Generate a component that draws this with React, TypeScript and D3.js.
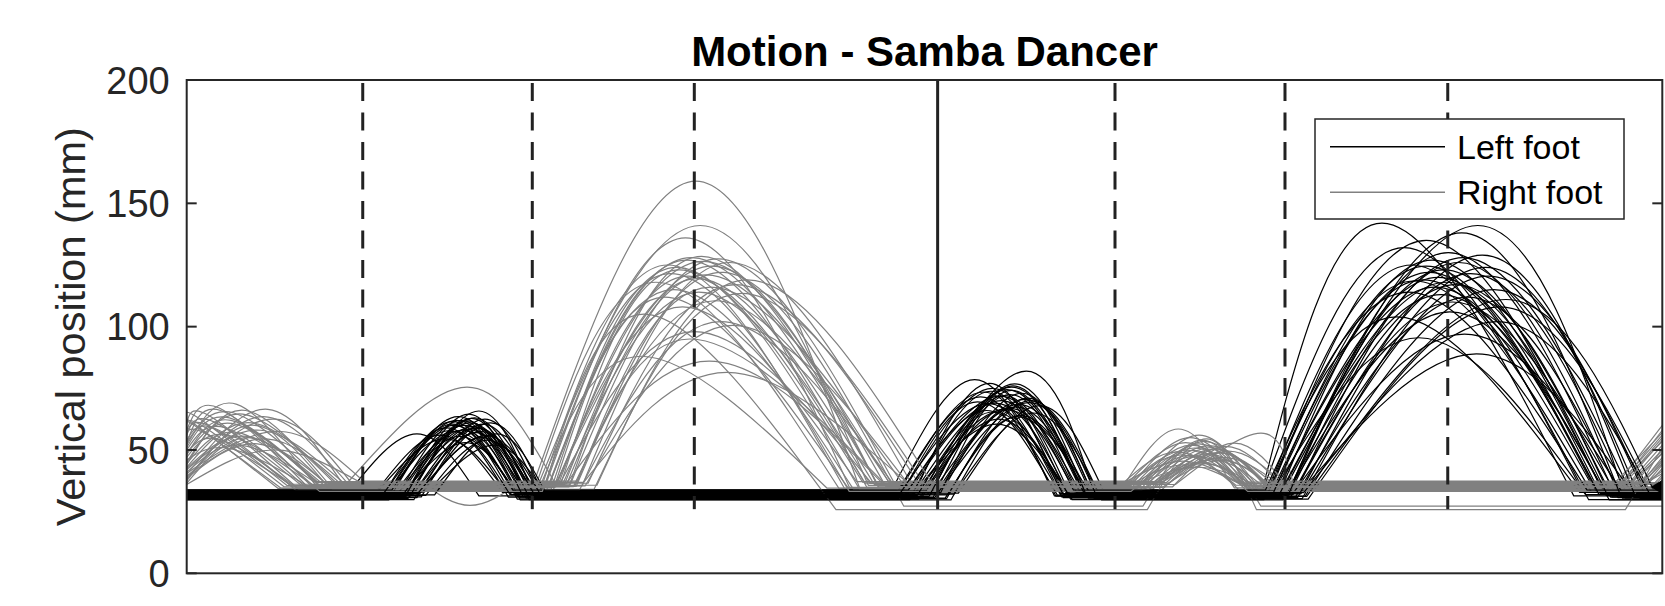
import { useEffect, useRef } from "react";
import * as d3 from "d3";

// [lift-off time, peak time, peak height (mm), landing time], time in % of the recording
type Swing = [number, number, number, number];

const yTicks = [0, 50, 100, 150, 200];

// beat markers (% of recording)
const dashedEvents = [11.93, 23.42, 34.4, 62.91, 74.43, 85.46];
const solidEvents = [50.89];
const markerBottom = 26;

// ---- left foot (black) ----
const leftGround = [31.4, 30.6, 32.6, 31.9, 29.9, 33.5, 32.3, 30.9, 33.0, 30.3, 31.6, 33.8, 32.1, 30.7, 32.8, 31.3, 33.2, 30.1,
  31.9, 32.5, 31.0, 33.6, 30.5, 31.7, 32.9, 32.2, 29.8, 33.4, 31.2, 31.8, 33.7, 30.8, 31.5, 32.7, 32.0, 31.1];

const leftSwing1: Swing[] = [
  [10.8, 15.6, 56.5, 19.8], [14.2, 18.6, 62.0, 22.6], [14.8, 19.0, 58.5, 22.9], [13.6, 18.0, 60.5, 22.0],
  [15.4, 19.6, 57.0, 23.2], [14.0, 18.4, 63.5, 22.8], [15.8, 20.0, 55.0, 23.4], [13.2, 17.6, 59.0, 21.8],
  [14.6, 19.2, 61.0, 23.0], [15.0, 19.8, 65.8, 23.6], [16.2, 20.4, 54.0, 23.8], [13.8, 18.2, 57.5, 22.2],
  [14.4, 18.8, 60.0, 22.7], [15.6, 20.2, 62.5, 24.0], [12.8, 17.2, 56.0, 21.4], [14.9, 19.4, 59.5, 23.1],
  [16.5, 20.8, 52.0, 24.2], [13.4, 18.0, 61.5, 22.4], [15.2, 19.5, 63.0, 23.3], [14.1, 18.7, 58.0, 22.5],
  [15.9, 20.1, 60.5, 23.7], [13.0, 17.5, 54.5, 21.6], [14.7, 19.1, 64.5, 23.0], [15.3, 19.9, 57.5, 23.5],
  [16.0, 20.6, 61.0, 24.1], [14.3, 18.5, 55.5, 22.3], [13.7, 18.3, 62.0, 22.6], [15.5, 19.7, 59.0, 23.4],
  [14.5, 18.9, 53.0, 22.4], [16.8, 21.0, 56.5, 24.4], [13.9, 18.1, 60.0, 22.1], [15.1, 19.3, 62.8, 23.2],
  [14.6, 19.6, 58.8, 23.6], [15.7, 20.3, 55.8, 23.9], [13.3, 17.8, 57.8, 21.9], [14.8, 19.0, 61.8, 22.8],
];

const leftSwing2: Swing[] = [
  [47.6, 53.4, 78.5, 58.8], [49.8, 56.9, 82.0, 61.6], [48.5, 54.6, 75.0, 59.6], [50.2, 55.8, 72.5, 60.4],
  [49.0, 55.2, 70.0, 60.0], [51.0, 56.4, 68.5, 61.0], [48.2, 54.0, 73.5, 59.2], [50.6, 56.0, 76.0, 60.8],
  [49.4, 55.5, 66.5, 60.2], [51.5, 57.0, 71.0, 61.5], [48.8, 54.8, 69.0, 59.8], [50.0, 55.6, 74.5, 60.6],
  [52.0, 57.4, 65.0, 61.8], [49.2, 54.4, 77.0, 59.4], [50.8, 56.2, 67.5, 60.9], [48.0, 53.8, 71.5, 58.9],
  [51.2, 56.6, 73.0, 61.2], [49.6, 55.0, 62.5, 59.9], [50.4, 56.8, 70.5, 61.4], [52.3, 57.8, 68.0, 62.2],
  [48.6, 54.2, 66.0, 59.3], [49.9, 55.9, 75.5, 60.7], [51.4, 56.5, 64.0, 61.1], [48.4, 53.6, 69.5, 59.0],
  [50.5, 55.4, 72.0, 60.3], [49.3, 54.9, 60.5, 59.7], [51.8, 57.2, 70.0, 62.0], [50.1, 55.7, 67.0, 60.5],
  [49.1, 54.5, 73.8, 59.5], [51.6, 56.3, 63.5, 61.3], [48.9, 55.1, 71.8, 60.1], [50.7, 57.1, 69.2, 61.7],
  [49.5, 54.7, 65.5, 59.8], [51.1, 55.9, 74.2, 60.8], [48.3, 54.3, 68.8, 59.4], [50.3, 56.1, 76.8, 61.0],
];

const leftSwing3: Swing[] = [
  [72.8, 81.0, 142.0, 94.0], [74.0, 87.5, 141.0, 97.5], [73.4, 84.0, 135.0, 96.0], [74.6, 85.5, 130.0, 96.8],
  [73.0, 83.0, 125.0, 95.0], [75.2, 86.5, 128.0, 97.8], [73.8, 84.8, 120.0, 95.8], [74.4, 86.0, 117.0, 96.5],
  [72.9, 82.5, 132.0, 94.6], [75.6, 88.0, 124.0, 98.5], [74.2, 85.0, 113.0, 96.2], [73.6, 83.8, 119.0, 95.4],
  [75.0, 87.0, 121.5, 97.6], [74.8, 85.8, 110.0, 97.0], [73.2, 82.0, 104.0, 94.4], [75.8, 88.6, 115.0, 99.0],
  [74.1, 84.4, 127.0, 96.0], [76.0, 89.0, 108.0, 99.4], [73.5, 83.5, 95.5, 94.8], [75.4, 87.4, 89.0, 98.0],
  [74.5, 85.2, 123.0, 96.6], [73.9, 84.6, 116.0, 95.6], [75.1, 86.8, 112.0, 97.3], [74.7, 86.2, 126.0, 97.1],
  [73.3, 83.2, 118.5, 95.2], [75.5, 88.2, 120.5, 98.8], [74.3, 85.6, 106.0, 96.4], [73.7, 84.2, 122.0, 95.5],
  [75.9, 89.4, 111.0, 99.6], [74.9, 86.6, 97.0, 97.4], [73.1, 82.8, 114.0, 94.9], [75.3, 87.8, 129.0, 98.2],
  [74.0, 85.4, 118.0, 96.3], [75.7, 88.8, 102.0, 99.1], [73.6, 84.0, 124.5, 95.7], [74.6, 86.4, 138.0, 97.2],
];

// ---- right foot (grey) ----
const rightGround = [34.6, 35.6, 33.7, 36.4, 35.0, 34.2, 36.1, 37.0, 33.4, 35.3, 36.3, 34.4, 36.8, 35.5, 33.9, 36.0, 36.5, 34.8,
  35.1, 37.2, 34.0, 35.8, 33.6, 36.6, 35.4, 34.5, 36.2, 36.9, 34.1, 35.0, 33.2, 37.4, 35.7, 34.8, 35.2, 36.4];

// trials that land lower after the big swing: [trial, ground height]
const rightLowLanding: [number, number][] = [[9, 27.2], [21, 25.8]];

// swing already running at t = 0: [height at t=0, peak time, peak height, landing time]
const rightSwing0: Swing[] = [
  [60.5, 1.5, 64.0, 7.5], [62.0, 0.8, 63.0, 6.8], [52.0, 3.4, 68.5, 9.0], [45.0, 4.0, 66.0, 9.6],
  [58.0, 2.2, 67.0, 8.2], [40.0, 5.5, 66.5, 10.8], [55.0, 1.2, 57.0, 7.0], [48.0, 3.0, 62.0, 8.8],
  [38.0, 4.6, 60.0, 9.8], [50.0, 2.6, 59.0, 8.0], [44.0, 3.8, 64.5, 10.2], [60.0, 0.4, 61.0, 6.2],
  [42.0, 5.0, 58.0, 10.6], [56.0, 1.8, 61.5, 7.8], [36.5, 4.2, 55.0, 9.2], [47.0, 2.8, 56.0, 8.5],
  [53.0, 3.2, 65.0, 9.4], [39.0, 6.0, 62.5, 11.4], [58.5, 1.0, 60.0, 6.6], [41.0, 3.6, 52.0, 8.6],
  [49.0, 2.4, 54.0, 7.6], [37.5, 5.2, 63.5, 11.0], [54.0, 2.0, 58.5, 7.4], [43.0, 4.4, 61.0, 10.0],
  [46.0, 3.0, 50.5, 8.2], [59.5, 0.5, 60.0, 6.4], [40.5, 6.4, 57.5, 12.2], [51.0, 2.9, 63.0, 8.9],
  [38.5, 4.8, 52.5, 9.9], [57.0, 1.6, 59.5, 7.2], [44.5, 3.5, 57.0, 9.0], [36.0, 5.8, 50.0, 11.6],
  [52.5, 2.3, 66.0, 8.4], [42.5, 4.1, 55.5, 9.5], [48.5, 3.3, 60.5, 9.1], [39.5, 5.4, 54.5, 10.4],
];

// odd excursions between the first two swings: [trial, start, extreme time, extreme height, end]
const rightExtra: [number, number, number, number, number][] = [[6, 10.8, 19.0, 75.5, 25.0], [3, 16.0, 19.2, 27.5, 22.5]];

const rightSwing1: Swing[] = [
  [23.4, 34.5, 159.0, 45.6], [23.8, 34.8, 141.0, 46.2], [24.2, 33.8, 136.0, 45.0], [24.6, 34.2, 128.0, 46.8],
  [25.0, 35.0, 126.5, 47.4], [24.0, 32.6, 125.0, 44.6], [26.0, 36.0, 127.5, 48.0], [25.4, 33.4, 123.0, 45.8],
  [24.8, 35.6, 124.5, 47.0], [26.4, 36.4, 122.0, 48.6], [25.2, 34.0, 120.5, 46.0], [23.6, 31.8, 118.0, 44.2],
  [25.8, 35.2, 121.0, 47.6], [26.8, 36.8, 126.0, 49.2], [24.4, 33.0, 115.0, 45.2], [25.6, 34.6, 119.5, 46.6],
  [27.2, 37.2, 117.0, 49.6], [24.9, 32.4, 112.0, 44.8], [26.2, 35.8, 110.5, 47.8], [25.1, 33.6, 108.0, 45.4],
  [27.6, 37.6, 113.5, 50.2], [24.3, 31.2, 105.0, 44.0], [26.6, 36.2, 102.0, 48.2], [25.3, 34.4, 98.0, 46.4],
  [27.0, 37.0, 100.5, 49.0], [23.9, 30.8, 88.0, 43.4], [25.7, 35.4, 86.0, 47.2], [26.9, 36.6, 81.5, 48.8],
  [24.7, 33.2, 124.0, 45.6], [25.9, 34.9, 128.5, 46.9], [24.1, 32.8, 121.5, 44.9], [26.5, 35.5, 116.0, 48.4],
  [27.8, 38.0, 119.0, 50.6], [24.5, 33.9, 127.0, 46.1], [26.3, 34.1, 95.0, 47.5], [25.5, 34.7, 114.0, 46.3],
];

const rightSwing2: Swing[] = [
  [63.4, 67.2, 58.5, 71.0], [64.0, 68.0, 55.0, 71.8], [64.6, 68.6, 52.5, 72.4], [63.8, 67.8, 50.0, 71.4],
  [65.0, 69.0, 53.5, 72.6], [64.2, 68.4, 47.5, 72.0], [65.4, 69.4, 51.0, 73.0], [63.6, 67.5, 45.5, 71.2],
  [66.0, 70.0, 49.0, 73.4], [64.8, 68.8, 54.0, 72.8], [65.6, 69.8, 46.5, 73.2], [64.4, 68.2, 49.8, 71.9],
  [66.4, 70.4, 51.5, 74.0], [63.9, 67.6, 44.0, 71.6], [65.2, 69.2, 48.5, 72.7], [67.0, 72.8, 56.8, 75.0],
  [64.5, 68.5, 43.0, 72.2], [65.8, 69.6, 50.5, 73.3], [64.1, 68.1, 52.0, 71.7], [66.2, 70.2, 47.0, 73.8],
  [63.5, 67.4, 48.0, 71.3], [65.1, 69.1, 54.5, 72.5], [64.7, 68.7, 45.0, 72.3], [66.6, 70.6, 49.5, 74.3],
  [64.3, 68.3, 50.8, 72.1], [65.5, 69.5, 46.0, 73.1], [63.7, 67.7, 53.0, 71.5], [65.9, 69.9, 48.8, 73.5],
  [64.9, 68.9, 44.5, 72.6], [66.8, 71.0, 52.8, 74.6], [64.0, 68.0, 47.8, 71.9], [65.3, 69.3, 51.8, 72.9],
  [63.3, 67.1, 49.2, 71.1], [66.1, 70.1, 45.8, 73.6], [64.6, 68.6, 56.0, 72.4], [65.7, 69.7, 50.2, 73.2],
];

// next swing starting at the end: [lift-off time, height at t=100], null = still on the ground
const rightSwing3: ([number, number] | null)[] = [
  [97.0, 58.0], [97.6, 52.0], [98.2, 47.0], null, [96.8, 60.0], [98.6, 44.0], null, [97.4, 55.0], [99.0, 40.0],
  null, [97.8, 50.0], [98.4, 45.5], null, [96.6, 57.0], [99.2, 39.0], null, [97.2, 53.5], [98.8, 42.5],
  null, [98.0, 48.5], null, [97.5, 51.0], [99.4, 38.0], null, [98.3, 46.0], null, [97.1, 56.0],
  [98.9, 41.5], null, [97.9, 49.0], null, [99.1, 40.5], [98.5, 44.5], null, [97.3, 54.0], null,
];

const endMarker: [number, number] = [99.2, 35.0];

const legendItems = ["Left foot", "Right foot"];

export default function App() {
  const svgRef = useRef<SVGSVGElement | null>(null);
  const width = 1665;
  const height = 606;

  useEffect(() => {
    document.body.style.margin = "0";
    const margin = { top: 80, right: 2.7, bottom: 32.7, left: 186.7 };
    const font = "'Liberation Sans', Arial, Helvetica, sans-serif";
    const axisColor = "#262626";

    const svg = d3.select(svgRef.current);
    svg.selectAll("*").remove();

    const x = d3.scaleLinear().domain([0, 100]).range([margin.left, width - margin.right]);
    const y = d3.scaleLinear().domain([0, 200]).range([height - margin.bottom, margin.top]);

    svg.append("defs").append("clipPath").attr("id", "plot-clip")
      .append("rect")
      .attr("x", x(0)).attr("y", y(200))
      .attr("width", x(100) - x(0)).attr("height", y(0) - y(200));

    // each swing is drawn as a natural spline arch, ground phases as straight runs
    const arch = d3.line<[number, number]>()
      .x((d) => x(d[0]))
      .y((d) => y(d[1]))
      .curve(d3.curveNatural);

    const joinSegs = (segs: [number, number][][]) => {
      let d = "";
      segs.forEach((s) => {
        const part = arch(s) ?? "";
        d += d === "" ? part : "L" + part.slice(1);
      });
      return d;
    };

    const leftTrial = (i: number) => {
      const g = leftGround[i];
      const segs: [number, number][][] = [];
      let last = 0;
      [leftSwing1[i], leftSwing2[i], leftSwing3[i]].forEach(([a, p, h, b]) => {
        segs.push([[last, g], [a, g]]);
        segs.push([[a, g], [p, h], [b, g]]);
        last = b;
      });
      segs.push([[last, g], [100, g]]);
      return joinSegs(segs);
    };

    const lowMap = new Map(rightLowLanding);
    const rightTrial = (i: number) => {
      const g = rightGround[i];
      const gl = lowMap.get(i) ?? g;
      const segs: [number, number][][] = [];
      const [y0, p0, h0, b0] = rightSwing0[i];
      segs.push([[0, y0], [p0, h0], [b0, g]]);
      let last = b0;
      rightExtra.filter((e) => e[0] === i).forEach(([, a, p, h, b]) => {
        segs.push([[last, g], [a, g]]);
        segs.push([[a, g], [p, h], [b, g]]);
        last = b;
      });
      const [a1, p1, h1, b1] = rightSwing1[i];
      segs.push([[last, g], [a1, g]]);
      segs.push([[a1, g], [p1, h1], [b1, gl]]);
      const [a2, p2, h2, b2] = rightSwing2[i];
      segs.push([[b1, gl], [a2, gl]]);
      segs.push([[a2, gl], [p2, h2], [b2, gl]]);
      const s3 = rightSwing3[i];
      if (s3) {
        segs.push([[b2, gl], [s3[0], gl]]);
        segs.push([[s3[0], gl], [100, s3[1]]]);
      } else {
        segs.push([[b2, gl], [100, gl]]);
      }
      return joinSegs(segs);
    };

    const traces = svg.append("g").attr("clip-path", "url(#plot-clip)");
    leftGround.forEach((_, i) => {
      traces.append("path")
        .attr("d", leftTrial(i))
        .attr("fill", "none")
        .attr("stroke", "#000000")
        .attr("stroke-width", 1.2);
      traces.append("path")
        .attr("d", rightTrial(i))
        .attr("fill", "none")
        .attr("stroke", "#808080")
        .attr("stroke-width", 1.2);
    });

    // little arrow head at the right end
    traces.append("path")
      .attr("d", `M${x(endMarker[0])},${y(endMarker[1])} L${x(100)},${y(endMarker[1]) - 7} L${x(100)},${y(endMarker[1]) + 7} Z`)
      .attr("fill", "#000");

    // beat markers
    const ev = svg.append("g");
    ev.selectAll(".dashed")
      .data(dashedEvents)
      .join("line")
      .attr("class", "dashed")
      .attr("x1", (d) => x(d)).attr("x2", (d) => x(d))
      .attr("y1", y(200)).attr("y2", y(markerBottom))
      .attr("stroke", "#222")
      .attr("stroke-width", 3)
      .attr("stroke-dasharray", "18 11.5")
      .attr("stroke-dashoffset", 26.5);
    ev.selectAll(".solid")
      .data(solidEvents)
      .join("line")
      .attr("class", "solid")
      .attr("x1", (d) => x(d)).attr("x2", (d) => x(d))
      .attr("y1", y(200)).attr("y2", y(markerBottom))
      .attr("stroke", "#222")
      .attr("stroke-width", 3);

    // axes box + ticks
    const ax = svg.append("g");
    ax.append("rect")
      .attr("x", x(0)).attr("y", y(200))
      .attr("width", x(100) - x(0)).attr("height", y(0) - y(200))
      .attr("fill", "none")
      .attr("stroke", axisColor)
      .attr("stroke-width", 2);
    const tickLen = 10;
    yTicks.forEach((t) => {
      ax.append("line")
        .attr("x1", x(0)).attr("x2", x(0) + tickLen)
        .attr("y1", y(t)).attr("y2", y(t))
        .attr("stroke", axisColor).attr("stroke-width", 2);
      ax.append("line")
        .attr("x1", x(100)).attr("x2", x(100) - tickLen)
        .attr("y1", y(t)).attr("y2", y(t))
        .attr("stroke", axisColor).attr("stroke-width", 2);
      ax.append("text")
        .attr("x", x(0) - 17)
        .attr("y", y(t))
        .attr("dy", "0.36em")
        .attr("text-anchor", "end")
        .style("font-family", font)
        .style("font-size", "38px")
        .style("fill", axisColor)
        .text(String(t));
    });

    svg.append("text")
      .attr("transform", `translate(85,${(y(0) + y(200)) / 2}) rotate(-90)`)
      .attr("text-anchor", "middle")
      .style("font-family", font)
      .style("font-size", "41.5px")
      .style("fill", axisColor)
      .text("Vertical position (mm)");

    svg.append("text")
      .attr("x", (x(0) + x(100)) / 2)
      .attr("y", 66)
      .attr("text-anchor", "middle")
      .style("font-family", font)
      .style("font-size", "42px")
      .style("font-weight", "bold")
      .style("fill", "#000")
      .text("Motion - Samba Dancer");

    // legend
    const lg = svg.append("g").attr("transform", `translate(${x(100) - 347.3},${y(200) + 39})`);
    lg.append("rect")
      .attr("width", 309).attr("height", 100)
      .attr("fill", "#fff")
      .attr("stroke", axisColor)
      .attr("stroke-width", 1.5);
    legendItems.forEach((name, i) => {
      const cy = 27.7 + i * 45.6;
      lg.append("line")
        .attr("x1", 15).attr("x2", 130)
        .attr("y1", cy).attr("y2", cy)
        .attr("stroke", i === 0 ? "#000000" : "#808080")
        .attr("stroke-width", 1.4);
      lg.append("text")
        .attr("x", 142)
        .attr("y", cy + 12)
        .style("font-family", font)
        .style("font-size", "34px")
        .style("fill", "#000")
        .text(name);
    });
  }, []);

  return (
    <svg
      ref={svgRef}
      width={width}
      height={height}
      style={{ display: "block", backgroundColor: "#ffffff" }}
    />
  );
}
